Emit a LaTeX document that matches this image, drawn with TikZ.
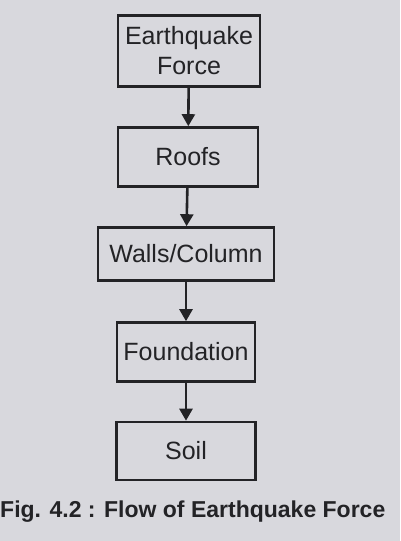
\documentclass[tikz,border=0pt]{standalone}
\usepackage{fontspec}
\setmainfont{Liberation Sans}
\usetikzlibrary{arrows.meta}

\definecolor{paper}{RGB}{216,216,221}
\definecolor{ink}{RGB}{35,35,38}

\tikzset{
  flowbox/.style={draw=ink, line width=2.6pt, text=ink, inner sep=0pt,
    align=center, font=\fontsize{25}{30}\selectfont},
  flowarrow/.style={draw=ink, line width=2.6pt,
    -{Triangle[length=12pt, width=13pt]}}
}

\begin{document}
\begin{tikzpicture}[x=1pt, y=-1pt]
  \fill[paper] (0,0) rectangle (400,541);
  \useasboundingbox (0,0) rectangle (400,541);

  \node[flowbox, minimum width=142pt, minimum height=71pt] (quake) at (189, 51) {Earthquake\\Force};
  \node[flowbox, minimum width=140pt, minimum height=59pt] (roofs) at (188, 157) {Roofs};
  \node[flowbox, minimum width=176pt, minimum height=53pt] (walls) at (186, 254) {Walls/Column};
  \node[flowbox, minimum width=138pt, minimum height=59pt] (found) at (186, 352) {Foundation};
  \node[flowbox, minimum width=139pt, minimum height=58pt] (soil) at (186, 451) {Soil};

  % flow of the force
  \draw[flowarrow] (quake) -- (roofs);
  \draw[flowarrow] (roofs) -- (walls);
  \draw[flowarrow] (walls) -- (found);
  \draw[flowarrow] (found) -- (soil);

  \node[anchor=west, text=ink, inner sep=0pt, font=\bfseries\fontsize{23}{25}\selectfont] (caption) at (0, 512) {Fig. 4.2 : Flow of Earthquake Force};
\end{tikzpicture}
\end{document}
